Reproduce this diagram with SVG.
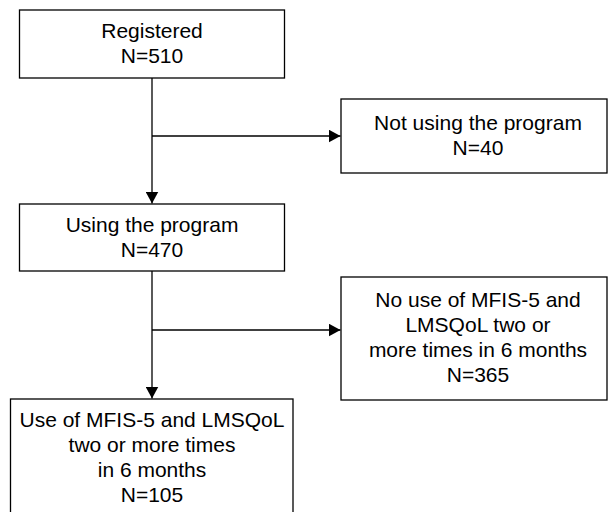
<svg xmlns="http://www.w3.org/2000/svg" width="608" height="512" viewBox="0 0 608 512">
<style>
.box{fill:#fff;stroke:#000;stroke-width:1.3}
.t{font-family:"Liberation Sans",Arial,sans-serif;font-size:21px;fill:#000;text-anchor:middle}
.c{fill:none;stroke:#000;stroke-width:1.3}
</style>
<defs>
<marker id="ah" viewBox="0 0 12 13" refX="12" refY="6.5" markerWidth="12" markerHeight="13" markerUnits="userSpaceOnUse" orient="auto">
<path d="M0,0 L12,6.5 L0,13 Z" fill="#000"/>
</marker>
</defs>
<rect width="608" height="512" fill="#fff"/>
<g id="connectors">
<path class="c" d="M152,78 V203.5" marker-end="url(#ah)"/>
<path class="c" d="M152,136 H340.5" marker-end="url(#ah)"/>
<path class="c" d="M152,271 V398.5" marker-end="url(#ah)"/>
<path class="c" d="M152,330 H340.5" marker-end="url(#ah)"/>
</g>
<g id="registered">
<rect class="box" x="19.5" y="10" width="265" height="68"/>
<text class="t" x="152" y="38">Registered</text>
<text class="t" x="152" y="62.5">N=510</text>
</g>
<g id="not-using">
<rect class="box" x="341" y="99" width="266" height="74"/>
<text class="t" x="478" y="129.5">Not using the program</text>
<text class="t" x="478" y="155">N=40</text>
</g>
<g id="using">
<rect class="box" x="19.5" y="204" width="265" height="67"/>
<text class="t" x="152" y="232">Using the program</text>
<text class="t" x="152" y="257">N=470</text>
</g>
<g id="no-use">
<rect class="box" x="341" y="277" width="266" height="123"/>
<text class="t" x="478" y="306.5">No use of MFIS-5 and</text>
<text class="t" x="478" y="331.5">LMSQoL two or</text>
<text class="t" x="478" y="356.5">more times in 6 months</text>
<text class="t" x="478" y="381.5">N=365</text>
</g>
<g id="use">
<rect class="box" x="10.5" y="399" width="282.5" height="120"/>
<text class="t" x="152" y="427">Use of MFIS-5 and LMSQoL</text>
<text class="t" x="152" y="452">two or more times</text>
<text class="t" x="152" y="477">in 6 months</text>
<text class="t" x="152" y="502">N=105</text>
</g>
</svg>
